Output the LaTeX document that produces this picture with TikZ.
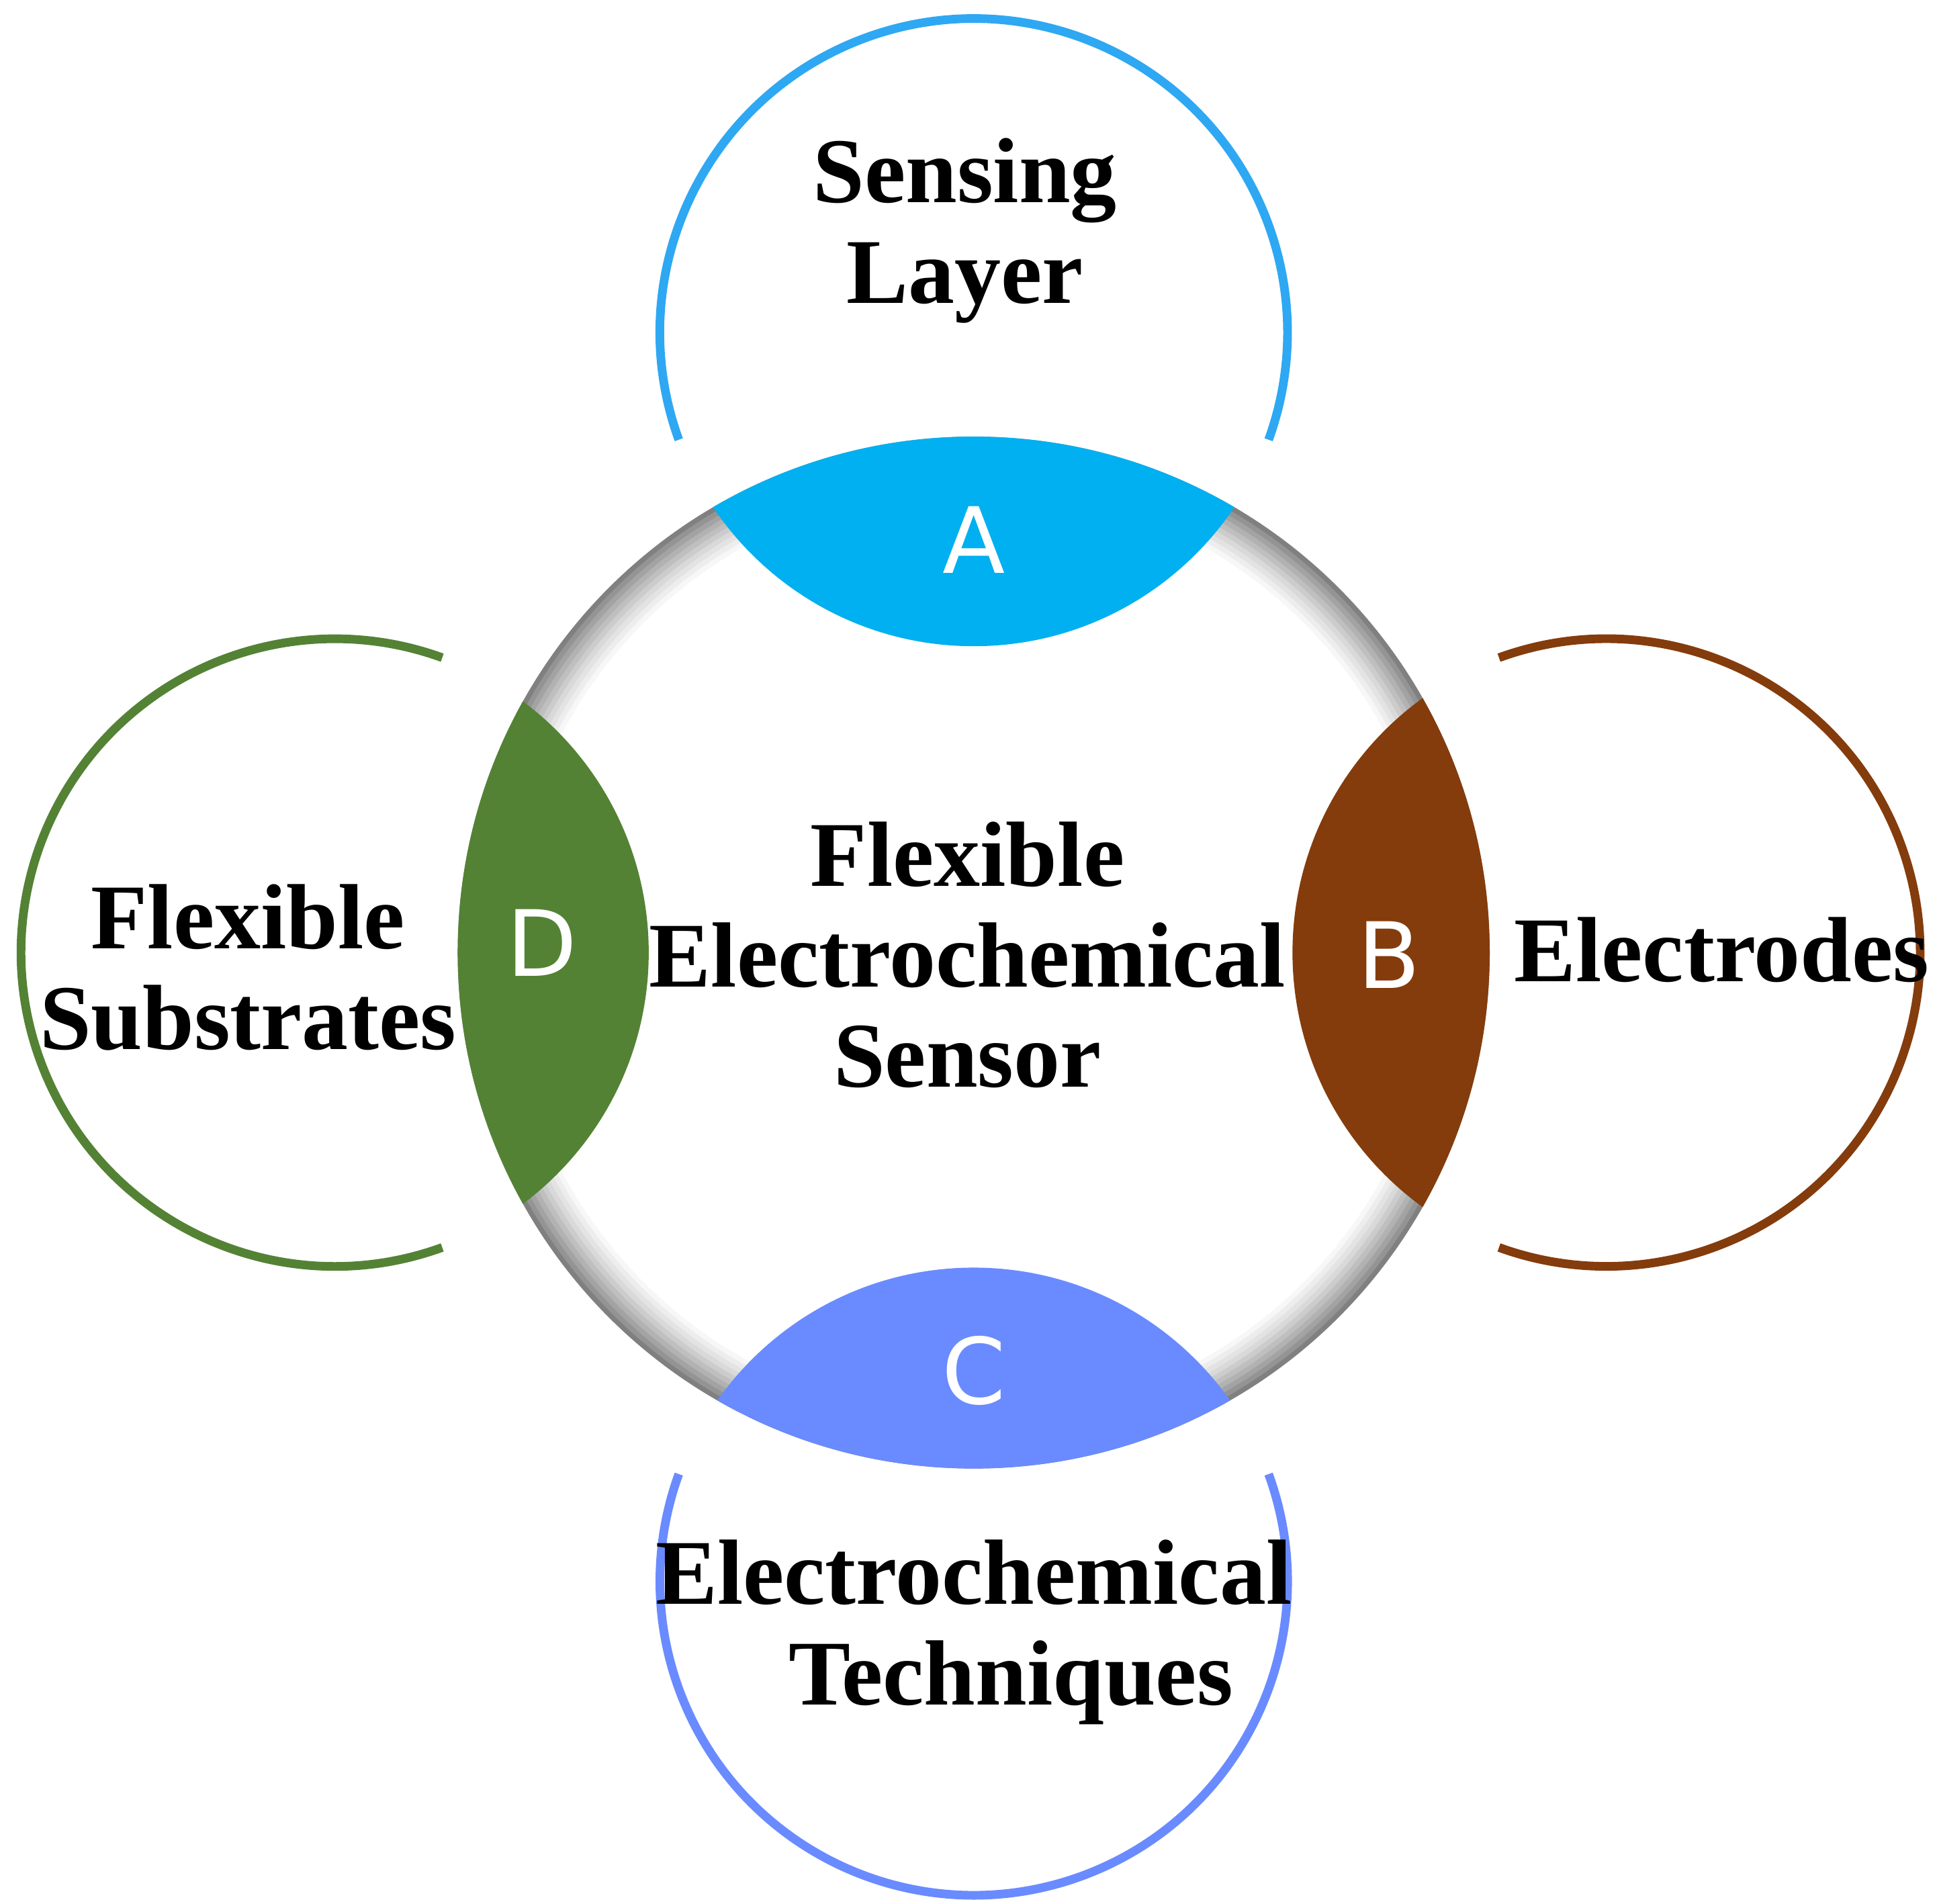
\documentclass[tikz,border=0pt]{standalone}
\usepackage{fontspec}
\setmainfont{Liberation Serif}
\newfontfamily\lettfont{DejaVu Sans}
\definecolor{cA}{HTML}{00B0F0}
\definecolor{lA}{HTML}{2EA8F2}
\definecolor{cB}{HTML}{843C0C}
\definecolor{cC}{HTML}{6A8BFF}
\definecolor{cD}{HTML}{548235}
\begin{document}
\begin{tikzpicture}[x=0.02cm,y=-0.02cm,
  lbl/.style={font=\fontsize{42.5}{46}\selectfont\bfseries,align=center,text=black},
  lett/.style={font=\fontsize{42}{42}\selectfont\lettfont,text=white},
  arcl/.style={line width=0.14cm}]
\useasboundingbox (0,0) rectangle (1560,1535);
% gray ring
\foreach \r/\g in {416/50,412/58,408/64,404/70,400/75,396/80,392/85,388/89,384/93,380/97,376/100}{
  \fill[black!\the\numexpr100-\g\relax!white] (785,768) circle (\r);
}
\coordinate (O) at (785,768);
% lenses
\begin{scope}
\clip (O) circle (416);
\fill[cA] (785,268) circle (253);
\fill[cB] (1295,768) circle (253);
\fill[cC] (785,1275) circle (253);
\fill[cD] (270,768) circle (253);
\end{scope}
% outer arcs
\draw[arcl,lA] (785,268) ++(160:253) arc[start angle=160,end angle=380,radius=253];
\draw[arcl,cB] (1295,768) ++(-110:253) arc[start angle=-110,end angle=110,radius=253];
\draw[arcl,cC] (785,1275) ++(-20:253) arc[start angle=-20,end angle=200,radius=253];
\draw[arcl,cD] (270,768) ++(70:253) arc[start angle=70,end angle=290,radius=253];
% texts
\node[lbl] (top) at (778,186) {Sensing\\Layer};
\node[lbl] (ctr) at (780,770) {Flexible\\Electrochemical\\Sensor};
\node[lbl] (lft) at (200,780) {Flexible\\Substrates};
\node[lbl] (rgt) at (1388,766) {Electrodes};
\node[lbl] (bot) at (785,1316) {Electrochemical\\\hspace*{0.8em}Techniques};
\node[lett] (a) at (785,435) {A};
\node[lett] (b) at (1120,770) {B};
\node[lett] (c) at (785,1105) {C};
\node[lett] (d) at (437,760) {D};
\end{tikzpicture}
\end{document}
